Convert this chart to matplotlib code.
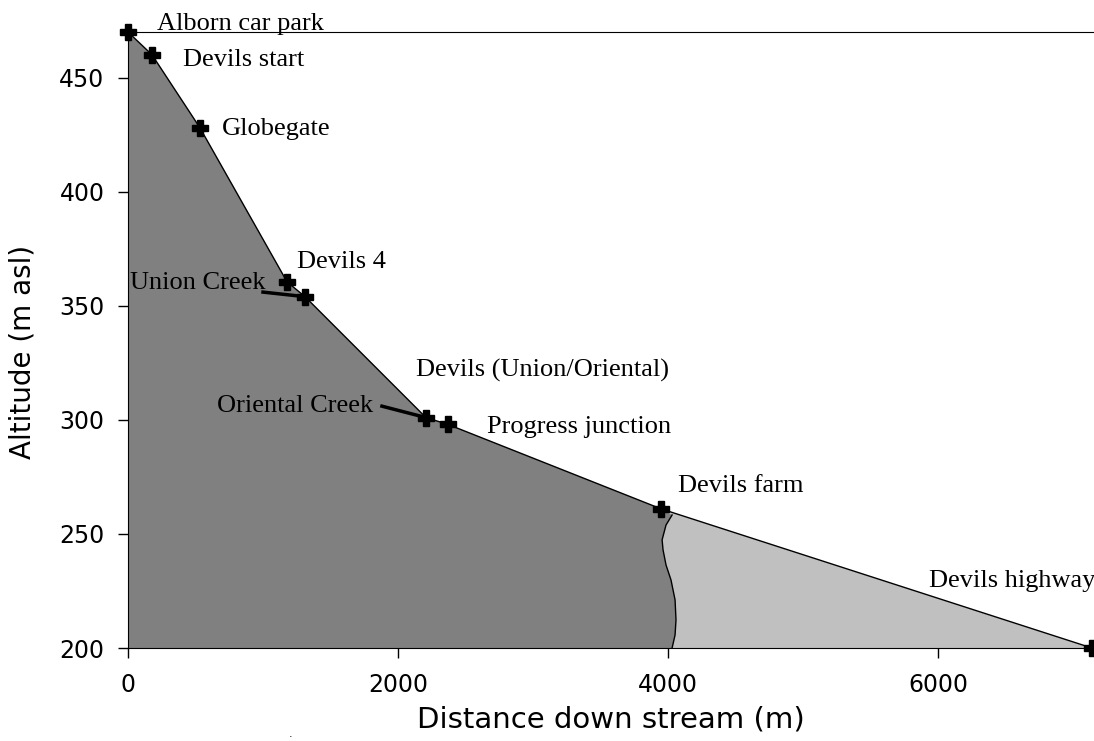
import numpy as np
import matplotlib.pyplot as plt

# sites along the Devils stream (distance in m, altitude in m asl)
sites = ['Alborn car park', 'Devils start', 'Globegate', 'Devils 4', '',
         'Devils (Union/Oriental)', 'Progress junction', 'Devils farm', 'Devils highway']
dist = np.array([0, 178, 533, 1178, 1311, 2207, 2370, 3948, 7140])
alt = np.array([470, 460, 428, 360.5, 354, 301, 298, 261, 200])

# tributaries joining the main stream
union_x = [1000, 1311]
union_y = [356, 354]
oriental_x = [1881, 2207]
oriental_y = [306, 301]

# boundary between the two shaded zones
bound_x = [4030, 3985, 3956, 3963, 3985, 4022, 4052, 4059, 4052, 4030]
bound_y = [258.3, 253.9, 247.4, 243, 236.4, 229.8, 221.1, 212.3, 205.7, 200]

# label anchor points (left, baseline)
lab_x = [215, 407, 696, 1252, 15, 659, 2133, 2659, 4074, 5935]
lab_y = [471, 455, 425, 366.7, 357.5, 303.5, 318.9, 294.3, 268.4, 226.8]
lab_txt = ['Alborn car park', 'Devils start', 'Globegate', 'Devils 4', 'Union Creek',
           'Oriental Creek', 'Devils (Union/Oriental)', 'Progress junction',
           'Devils farm', 'Devils highway']

fig = plt.figure(figsize=(10.94, 7.41), dpi=100)
ax = fig.add_axes([0.117, 0.1255, 0.883, 0.8313])

ax.fill_between(dist, alt, 200, color='#c0c0c0', lw=0)
m = dist < bound_x[0]
px = list(dist[m]) + bound_x + [0]
py = list(alt[m]) + bound_y + [200]
ax.fill(px, py, color='#808080', lw=0)
ax.plot(bound_x, bound_y, color='black', lw=1)

ax.plot(dist, alt, color='black', lw=1)
ax.plot(union_x, union_y, color='black', lw=2.5)
ax.plot(oriental_x, oriental_y, color='black', lw=2.5)
ax.plot(dist, alt, ls='none', marker='P', color='black', ms=12, mew=1, clip_on=False)

for x, y, t in zip(lab_x, lab_y, lab_txt):
    ax.text(x, y, t, family='Liberation Serif', fontsize=19, ha='left', va='baseline',
            clip_on=False)

ax.set_xlim(0, 7155)
ax.set_ylim(200, 470)
ax.set_xticks([0, 2000, 4000, 6000])
ax.set_yticks([200, 250, 300, 350, 400, 450])
ax.tick_params(direction='out', length=7, width=1, labelsize=17)
ax.tick_params(axis='x', pad=11)
ax.tick_params(axis='y', pad=10)
ax.spines['right'].set_visible(False)
ax.set_xlabel('Distance down stream (m)', fontsize=21, labelpad=6)
ax.set_ylabel('Altitude (m asl)', fontsize=20)
ax.yaxis.set_label_coords(-0.095, 0.48)
fig.text(0.264, 0.005, '.', fontsize=8)

fig.savefig('out.png', dpi=100)
